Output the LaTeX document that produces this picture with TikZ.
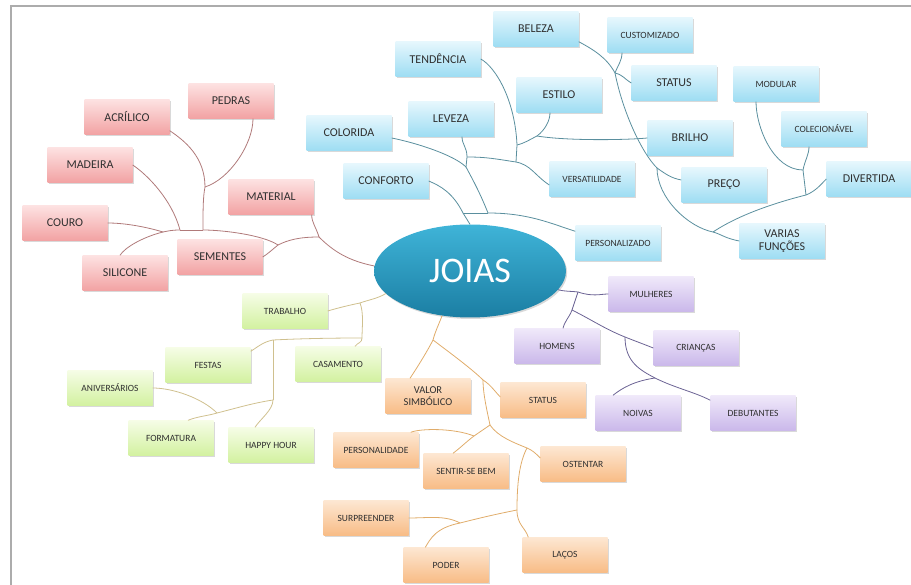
\documentclass[tikz,border=0pt]{standalone}
\usepackage{fontspec}
\setmainfont{Carlito}
\usepackage{xcolor}
\usetikzlibrary{positioning,shapes.geometric,shadows}

\definecolor{txtgray}{HTML}{303030}
\definecolor{redtop}{HTML}{FDE2E2}
\definecolor{redbot}{HTML}{F2A2A3}
\definecolor{bluetop}{HTML}{E6F7FD}
\definecolor{bluebot}{HTML}{9EDDF3}
\definecolor{greentop}{HTML}{F6FDE6}
\definecolor{greenbot}{HTML}{D2F1A0}
\definecolor{orangetop}{HTML}{FDE7D2}
\definecolor{orangebot}{HTML}{F8BC86}
\definecolor{purpletop}{HTML}{F0E9FA}
\definecolor{purplebot}{HTML}{CAB8EA}
\definecolor{joiastop}{HTML}{3FB4D8}
\definecolor{joiasbot}{HTML}{1B7EA3}
\definecolor{redline}{HTML}{B07A7A}
\definecolor{blueline}{HTML}{5A8F9E}
\definecolor{greenline}{HTML}{CFC08E}
\definecolor{orangeline}{HTML}{E0AC6A}
\definecolor{purpleline}{HTML}{6B6394}

\begin{document}
\begin{tikzpicture}[
  x=1pt,y=-1pt,
  font=\fontsize{12}{13}\selectfont,
  box/.style={rectangle,minimum width=85pt,minimum height=35pt,inner sep=2pt,
    align=center,text=txtgray,
    drop shadow={shadow xshift=1.2pt,shadow yshift=-1.5pt,opacity=.3}},
  smalltxt/.style={font=\fontsize{9.5}{11}\selectfont},
  redbox/.style={box,top color=redtop,bottom color=redbot},
  bluebox/.style={box,top color=bluetop,bottom color=bluebot},
  greenbox/.style={box,smalltxt,top color=greentop,bottom color=greenbot},
  orangebox/.style={box,smalltxt,top color=orangetop,bottom color=orangebot},
  purplebox/.style={box,smalltxt,top color=purpletop,bottom color=purplebot},
  rlink/.style={draw=redline,line width=.8pt},
  blink/.style={draw=blueline,line width=.8pt},
  glink/.style={draw=greenline,line width=.8pt},
  olink/.style={draw=orangeline,line width=.8pt},
  plink/.style={draw=purpleline,line width=.8pt}
]
\useasboundingbox (0,0) rectangle (911,585);
\draw[gray!65,line width=1.3pt] (11,6) rectangle (930,600);

% centre
\node[ellipse,minimum width=192pt,minimum height=93pt,inner sep=0pt,
  top color=joiastop,bottom color=joiasbot,text=white,
  font=\fontsize{36}{40}\selectfont,
  drop shadow={shadow xshift=1.2pt,shadow yshift=-1.5pt,opacity=.3}]
  (joias) at (470,271) {JOIAS};

% material
\node[redbox] (pedras) at (231,101) {PEDRAS};
\node[redbox] (acrilico) at (127,117) {ACRÍLICO};
\node[redbox] (madeira) at (90,165) {MADEIRA};
\node[redbox] (material) at (271,197) {MATERIAL};
\node[redbox] (couro) at (65,223) {COURO};
\node[redbox] (sementes) at (220,257) {SEMENTES};
\node[redbox] (silicone) at (125,273) {SILICONE};

% caracteristicas
\node[bluebox] (beleza) at (536,29) {BELEZA};
\node[bluebox,smalltxt] (customizado) at (650,35) {CUSTOMIZADO};
\node[bluebox] (tendencia) at (438,59) {TENDÊNCIA};
\node[bluebox] (bstatus) at (674,83) {STATUS};
\node[bluebox,smalltxt] (modular) at (776,84) {MODULAR};
\node[bluebox] (estilo) at (559,95) {ESTILO};
\node[bluebox] (leveza) at (451,119) {LEVEZA};
\node[bluebox] (colorida) at (349,133) {COLORIDA};
\node[bluebox] (brilho) at (690,138) {BRILHO};
\node[bluebox,smalltxt] (colecionavel) at (824,129) {COLECIONÁVEL};
\node[bluebox] (conforto) at (386,181) {CONFORTO};
\node[bluebox,smalltxt] (versatilidade) at (592,179) {VERSATILIDADE};
\node[bluebox] (preco) at (724,185) {PREÇO};
\node[bluebox] (divertida) at (869,179) {DIVERTIDA};
\node[bluebox,smalltxt] (personalizado) at (618,243) {PERSONALIZADO};
\node[bluebox] (varias) at (782,241) {VARIAS\\FUNÇÕES};

% ocasioes
\node[greenbox] (trabalho) at (285,311) {TRABALHO};
\node[greenbox] (festas) at (208,365) {FESTAS};
\node[greenbox] (casamento) at (338,364) {CASAMENTO};
\node[greenbox] (aniversarios) at (110,388) {ANIVERSÁRIOS};
\node[greenbox] (formatura) at (171,438) {FORMATURA};
\node[greenbox] (happyhour) at (271,445) {HAPPY HOUR};

% motivos
\node[orangebox,font=\fontsize{10.5}{12}\selectfont] (valor) at (428,396) {VALOR\\SIMBÓLICO};
\node[orangebox] (ostatus) at (543,400) {STATUS};
\node[orangebox] (personalidade) at (376,450) {PERSONALIDADE};
\node[orangebox] (sentir) at (466,471) {SENTIR-SE BEM};
\node[orangebox] (ostentar) at (583,464) {OSTENTAR};
\node[orangebox] (surpreender) at (366,518) {SURPREENDER};
\node[orangebox] (poder) at (446,565) {PODER};
\node[orangebox] (lacos) at (565,555) {LAÇOS};

% publico
\node[purplebox] (mulheres) at (651,294) {MULHERES};
\node[purplebox] (homens) at (557,346) {HOMENS};
\node[purplebox] (criancas) at (696,348) {CRIANÇAS};
\node[purplebox] (noivas) at (638,413) {NOIVAS};
\node[purplebox] (debutantes) at (753,413) {DEBUTANTES};

% branch points
\coordinate (rj) at (319,237);
\coordinate (rs) at (278,245);
\coordinate (rt) at (203,230);
\coordinate (rm) at (180,230);
\coordinate (rc) at (163,232);
\coordinate (rp) at (205,187);
\coordinate (bc) at (463,213);
\coordinate (bh) at (488,213);
\coordinate (bl) at (466,167);
\coordinate (bv) at (467,157);
\coordinate (bt) at (516,162);
\coordinate (be) at (517,145);
\coordinate (bs) at (537,136);
\coordinate (ku) at (615,73);
\coordinate (kp) at (657,168);
\coordinate (kv) at (713,232);
\coordinate (kd) at (806,195);
\coordinate (km) at (803,170);
\coordinate (g1) at (360,303);
\coordinate (g2) at (362,338);
\coordinate (g3) at (273,340);
\coordinate (g4) at (273,400);
\coordinate (g5) at (217,413);
\coordinate (o1) at (433,340);
\coordinate (o2) at (483,380);
\coordinate (o3) at (490,425);
\coordinate (o5) at (474,436);
\coordinate (o4) at (527,448);
\coordinate (o6) at (517,510);
\coordinate (o7) at (460,523);
\coordinate (p1) at (578,292);
\coordinate (p2) at (572,310);
\coordinate (p3) at (625,337);
\coordinate (p4) at (655,378);

% material branches
\draw[rlink] (joias.177) .. controls +(-25,-5) and +(15,15) .. (rj);
\draw[rlink] (rj) .. controls +(-3,-10) and +(0,8) .. ([xshift=-2pt]material.south east);
\draw[rlink] (rj) .. controls +(-20,0) and +(10,-5) .. (rs);
\draw[rlink] (rs) .. controls +(-5,4) and +(5,-3) .. (sementes.east);
\draw[rlink] (rs) .. controls +(-15,-10) and +(20,0) .. (rt);
\draw[rlink] (rt) -- (rm);
\draw[rlink] (rm) .. controls +(-8,0) and +(5,-1) .. (rc);
\draw[rlink] (rc) .. controls +(-20,-6) and +(15,0) .. (couro.east);
\draw[rlink] (rc) .. controls +(-20,5) and +(5,-8) .. ([xshift=-5pt]silicone.north);
\draw[rlink] (rm) .. controls +(-8,-30) and +(15,10) .. (madeira.east);
\draw[rlink] (rt) .. controls +(0,-20) and +(-2,10) .. (rp);
\draw[rlink] (rp) .. controls +(25,-8) and +(0,25) .. ([xshift=22pt]pedras.south);
\draw[rlink] (rp) .. controls +(0,-30) and +(15,10) .. ([yshift=4pt]acrilico.south east);

% caracteristicas branches
\draw[blink] (joias.north) -- (bc);
\draw[blink] (bc) .. controls +(-10,-20) and +(12,5) .. (conforto.east);
\draw[blink] (bc) -- (bh);
\draw[blink] (bh) .. controls +(40,0) and +(-25,-8) .. ([yshift=-6pt]personalizado.north west);
\draw[blink] (bh) .. controls +(-8,-20) and +(8,15) .. (bl);
\draw[blink] (bl) .. controls +(-12,-12) and +(25,5) .. ([yshift=-5pt]colorida.east);
\draw[blink] (bl) -- (bv);
\draw[blink] (bv) .. controls +(0,-10) and +(0,8) .. ([xshift=11pt]leveza.south);
\draw[blink] (bv) .. controls +(20,0) and +(-20,-3) .. (bt);
\draw[blink] (bt) .. controls +(15,3) and +(-15,-10) .. ([yshift=-6pt]versatilidade.west);
\draw[blink] (bt) -- (be);
\draw[blink] (be) .. controls +(-2,-45) and +(15,8) .. (tendencia.east);
\draw[blink] (be) .. controls +(8,-2) and +(-8,4) .. (bs);
\draw[blink] (bs) .. controls +(8,-6) and +(0,8) .. ([xshift=-9pt]estilo.south);
\draw[blink] (bs) .. controls +(30,5) and +(-20,2) .. (brilho.west);
\draw[blink] ([yshift=5pt]beleza.south east) .. controls +(15,8) and +(-8,-15) .. (ku);
\draw[blink] (ku) .. controls +(3,-8) and +(0,8) .. ([xshift=-28pt]customizado.south);
\draw[blink] (ku) .. controls +(8,2) and +(-8,-5) .. (bstatus.west);
\draw[blink] (ku) .. controls +(8,40) and +(-15,-15) .. (kp);
\draw[blink] (kp) .. controls +(10,7) and +(-10,-2) .. ([yshift=5pt]preco.west);
\draw[blink] (kp) .. controls +(0,30) and +(-25,-5) .. (kv);
\draw[blink] (kv) .. controls +(10,3) and +(-15,-3) .. (varias.west);
\draw[blink] (kv) .. controls +(30,-20) and +(-20,5) .. (kd);
\draw[blink] (kd) .. controls +(10,-4) and +(-5,5) .. (divertida.west);
\draw[blink] (kd) -- (km);
\draw[blink] (km) .. controls +(2,-10) and +(0,8) .. ([xshift=-15pt]colecionavel.south);
\draw[blink] (km) .. controls +(-30,0) and +(0,25) .. ([xshift=-20pt]modular.south);

% ocasioes branches
\draw[glink] (joias.195) .. controls +(-8,5) and +(8,-3) .. (g1);
\draw[glink] (g1) .. controls +(-10,2) and +(10,-3) .. (trabalho.east);
\draw[glink] (g1) .. controls +(4,10) and +(0,-10) .. (g2);
\draw[glink] (g2) .. controls +(0,5) and +(3,-4) .. ([xshift=17pt]casamento.north);
\draw[glink] (g2) .. controls +(-40,0) and +(20,-1) .. (g3);
\draw[glink] (g3) .. controls +(-10,2) and +(8,-5) .. ([yshift=-4pt]festas.north east);
\draw[glink] (g3) -- (g4);
\draw[glink] (g4) .. controls +(0,10) and +(5,-8) .. ([xshift=-16pt]happyhour.north);
\draw[glink] (g4) .. controls +(-20,3) and +(20,-5) .. (g5);
\draw[glink] (g5) .. controls +(-10,3) and +(10,-4) .. ([xshift=17pt]formatura.north);
\draw[glink] (g5) .. controls +(-15,-15) and +(20,0) .. (aniversarios.east);

% motivos branches
\draw[olink] (joias.238) .. controls +(-3,8) and +(2,-8) .. (o1);
\draw[olink] (o1) .. controls +(-5,10) and +(8,-12) .. ([xshift=-18pt]valor.north);
\draw[olink] (o1) .. controls +(20,15) and +(-10,-10) .. (o2);
\draw[olink] (o2) .. controls +(8,5) and +(-5,-5) .. ([yshift=3pt]ostatus.west);
\draw[olink] (o2) .. controls +(0,15) and +(-2,-10) .. (o3);
\draw[olink] (o3) .. controls +(8,12) and +(-12,-5) .. (o4);
\draw[olink] (o4) .. controls +(5,2) and +(-5,-5) .. ([yshift=6pt]ostentar.west);
\draw[olink] (o3) -- (o5);
\draw[olink] (o5) .. controls +(-20,-8) and +(10,-4) .. ([xshift=-8pt]personalidade.north east);
\draw[olink] (o5) .. controls +(-8,6) and +(8,-6) .. ([xshift=-13pt]sentir.north);
\draw[olink] (o4) .. controls +(-8,15) and +(0,-25) .. (o6);
\draw[olink] (o6) .. controls +(0,15) and +(-3,-10) .. ([xshift=6pt]lacos.north west);
\draw[olink] (o6) .. controls +(-25,5) and +(20,-5) .. (o7);
\draw[olink] (o7) .. controls +(-15,-8) and +(20,0) .. (surpreender.east);
\draw[olink] (o7) .. controls +(-25,5) and +(5,-8) .. ([xshift=22pt]poder.north west);

% publico branches
\draw[plink] (joias.-12) .. controls +(8,2) and +(-8,-1) .. (p1);
\draw[plink] (p1) .. controls +(15,5) and +(-8,0) .. (mulheres.west);
\draw[plink] (p1) -- (p2);
\draw[plink] (p2) .. controls +(-3,8) and +(2,-8) .. ([xshift=6pt]homens.north);
\draw[plink] (p2) .. controls +(20,10) and +(-20,-8) .. (p3);
\draw[plink] (p3) .. controls +(10,4) and +(-10,-4) .. (criancas.west);
\draw[plink] (p3) .. controls +(0,25) and +(-15,-8) .. (p4);
\draw[plink] (p4) .. controls +(20,10) and +(-15,-8) .. ([yshift=-5pt]debutantes.north west);
\draw[plink] (p4) .. controls +(-20,3) and +(10,-8) .. ([xshift=-25pt]noivas.north);
\end{tikzpicture}
\end{document}
